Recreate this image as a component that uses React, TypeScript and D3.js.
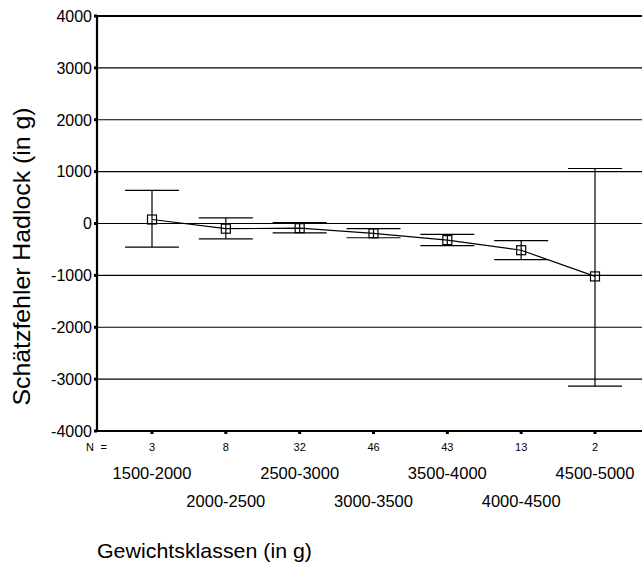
import React from "react";
import * as d3 from "d3";

const categories = ["1500-2000", "2000-2500", "2500-3000", "3000-3500", "3500-4000", "4000-4500", "4500-5000"];
const counts = [3, 8, 32, 46, 43, 13, 2];
const means = [77, -100, -90, -190, -320, -515, -1020];
const upper = [640, 110, 15, -100, -210, -330, 1060];
const lower = [-455, -295, -180, -275, -425, -695, -3135];
const yTicks = [4000, 3000, 2000, 1000, 0, -1000, -2000, -3000, -4000];

const W = 642;
const H = 565;
const left = 97;
const top = 16;
const bottom = 431;

export default function App() {
  const y = d3.scaleLinear().domain([-4000, 4000]).range([bottom, top]);
  const x = d3.scalePoint<string>().domain(categories).range([152, 595]);
  const line = d3
    .line<number>()
    .x((_, i) => x(categories[i]) as number)
    .y((d) => y(d));
  const font = "'Liberation Sans', Arial, sans-serif";
  const cap = 27;
  const sq = 9;
  return (
    <svg
      width={W}
      height={H}
      style={{ position: "absolute", left: 0, top: 0, background: "#fff" }}
      fontFamily={font}
    >
      <rect width={W} height={H} fill="#fff" />
      {yTicks.map((t) => (
        <g key={t}>
          {t !== -4000 && (
            <line x1={left} x2={W} y1={y(t)} y2={y(t)} stroke="#000" strokeWidth={t === 4000 ? 2 : 1.2} />
          )}
          <rect x={left - 3} y={y(t) - 1.5} width={3} height={3} fill="#000" />
          <text x={92} y={y(t)} dy="0.36em" textAnchor="end" fontSize={16}>
            {t}
          </text>
        </g>
      ))}
      <line x1={left} x2={left} y1={top - 1} y2={bottom + 1} stroke="#000" strokeWidth={2.2} />
      <line x1={left - 1} x2={W} y1={bottom} y2={bottom} stroke="#000" strokeWidth={2.2} />
      {categories.map((c, i) => {
        const cx = x(c) as number;
        return (
          <g key={c}>
            <rect x={cx - 1.5} y={bottom} width={3} height={3} fill="#000" />
            <text x={cx} y={451} textAnchor="middle" fontSize={11}>
              {counts[i]}
            </text>
            <text x={cx} y={i % 2 === 0 ? 479 : 507} textAnchor="middle" fontSize={16.5}>
              {c}
            </text>
          </g>
        );
      })}
      <text x={86} y={451} fontSize={11} textLength={21} lengthAdjust="spacing">
        N =
      </text>
      <path d={line(means) as string} fill="none" stroke="#000" strokeWidth={1.2} />
      {categories.map((c, i) => {
        const cx = x(c) as number;
        return (
          <g key={"e" + c} stroke="#000" strokeWidth={1.2}>
            <line x1={cx} x2={cx} y1={y(upper[i])} y2={y(lower[i])} />
            <line x1={cx - cap} x2={cx + cap} y1={y(upper[i])} y2={y(upper[i])} />
            <line x1={cx - cap} x2={cx + cap} y1={y(lower[i])} y2={y(lower[i])} />
            <rect x={cx - sq / 2} y={y(means[i]) - sq / 2} width={sq} height={sq} fill="none" />
          </g>
        );
      })}
      <text
        transform={`translate(30, 256.5) rotate(-90)`}
        textAnchor="middle"
        fontSize={24}
        textLength={298}
        lengthAdjust="spacingAndGlyphs"
      >
        Schätzfehler Hadlock (in g)
      </text>
      <text x={97} y={558} fontSize={21} textLength={215} lengthAdjust="spacingAndGlyphs">
        Gewichtsklassen (in g)
      </text>
    </svg>
  );
}
